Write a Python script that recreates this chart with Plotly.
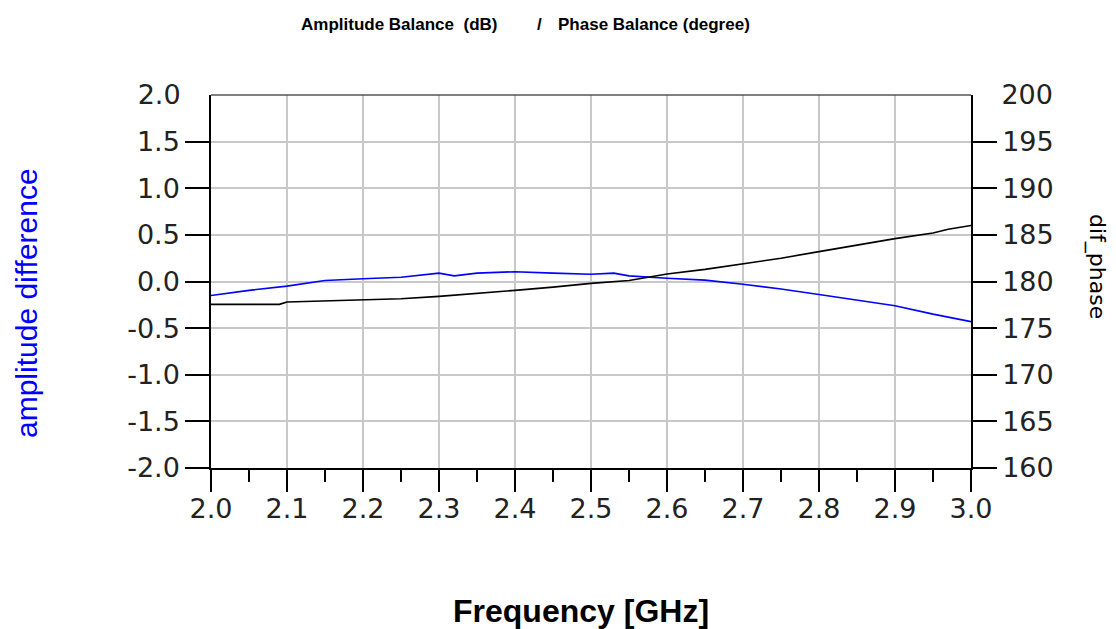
import plotly.graph_objects as go

# ---- data ----
amp_freq = [2.00, 2.05, 2.10, 2.15, 2.20, 2.25, 2.30, 2.32, 2.35, 2.40, 2.45, 2.50, 2.53, 2.55,
            2.60, 2.65, 2.70, 2.75, 2.80, 2.85, 2.90, 2.95, 3.00]
amp_diff = [-0.15, -0.095, -0.05, 0.01, 0.03, 0.045, 0.09, 0.06, 0.09, 0.105, 0.09, 0.077, 0.09, 0.06,
            0.035, 0.015, -0.03, -0.08, -0.14, -0.20, -0.26, -0.35, -0.43]

ph_freq = [2.00, 2.05, 2.09, 2.10, 2.15, 2.20, 2.25, 2.30, 2.35, 2.40, 2.45, 2.50, 2.55, 2.60,
           2.65, 2.70, 2.75, 2.80, 2.85, 2.90, 2.95, 2.97, 3.00]
dif_phase = [177.55, 177.55, 177.55, 177.8, 177.9, 178.0, 178.15, 178.4, 178.7, 179.05, 179.4, 179.8,
             180.1, 180.8, 181.3, 181.9, 182.5, 183.2, 183.9, 184.6, 185.2, 185.6, 186.0]

x_ticks = [2.0, 2.1, 2.2, 2.3, 2.4, 2.5, 2.6, 2.7, 2.8, 2.9, 3.0]
x_ticktext = ["2.0", "2.1", "2.2", "2.3", "2.4", "2.5", "2.6", "2.7", "2.8", "2.9", "3.0"]
yl_ticks = [-2.0, -1.5, -1.0, -0.5, 0.0, 0.5, 1.0, 1.5]
yl_ticktext = ["-2.0", "-1.5", "-1.0", "-0.5", "0.0", "0.5", "1.0", "1.5"]
yr_ticks = [160, 165, 170, 175, 180, 185, 190, 195]
yr_ticktext = ["160", "165", "170", "175", "180", "185", "190", "195"]

TICKFONT = dict(family="DejaVu Sans", size=27, color="#222222")

fig = go.Figure()
fig.add_trace(go.Scatter(x=amp_freq, y=amp_diff, mode="lines",
                         line=dict(color="#0000ff", width=1.6), yaxis="y", showlegend=False))
fig.add_trace(go.Scatter(x=ph_freq, y=dif_phase, mode="lines",
                         line=dict(color="#000000", width=1.6), yaxis="y2", showlegend=False))

fig.update_layout(
    width=1116, height=629,
    margin=dict(l=203, r=153, t=87, b=169),
    paper_bgcolor="white", plot_bgcolor="white",
    xaxis=dict(range=[2.0, 3.0], tickvals=x_ticks, ticktext=x_ticktext,
               ticks="outside", ticklen=22, tickwidth=1.5, tickcolor="black",
               ticklabelstandoff=-6,
               minor=dict(dtick=0.05, ticks="outside", ticklen=12, tickwidth=1.5,
                          tickcolor="black", showgrid=False),
               showgrid=True, gridcolor="#c8c8c8", gridwidth=1.5,
               showline=True, linecolor="black", linewidth=1.5,
               tickfont=TICKFONT, zeroline=False),
    yaxis=dict(range=[-2.0, 2.0], tickvals=yl_ticks, ticktext=yl_ticktext,
               ticks="outside", ticklen=24, tickwidth=1.5, tickcolor="black",
               showgrid=True, gridcolor="#c8c8c8", gridwidth=1.5,
               showline=True, linecolor="black", linewidth=1.5,
               tickfont=TICKFONT, zeroline=False),
    yaxis2=dict(range=[160, 200], tickvals=yr_ticks, ticktext=yr_ticktext, overlaying="y", side="right",
                ticks="outside", ticklen=24, tickwidth=1.5, tickcolor="black",
                showgrid=False, showline=True, linecolor="black", linewidth=1.5,
                tickfont=TICKFONT, zeroline=False),
    yaxis3=dict(range=[-2.0, 2.0], tickvals=[2.0], ticktext=["2.0"], overlaying="y", side="left",
                ticks="outside", ticklen=24, tickcolor="rgba(0,0,0,0)",
                showgrid=False, showline=False, tickfont=TICKFONT, zeroline=False),
    yaxis4=dict(range=[160, 200], tickvals=[200], ticktext=["200"], overlaying="y", side="right",
                ticks="outside", ticklen=24, tickcolor="rgba(0,0,0,0)",
                showgrid=False, showline=False, tickfont=TICKFONT, zeroline=False),
)
# dummy invisible traces to activate the label-only axes
fig.add_trace(go.Scatter(x=[None], y=[None], yaxis="y3", showlegend=False, hoverinfo="skip"))
fig.add_trace(go.Scatter(x=[None], y=[None], yaxis="y4", showlegend=False, hoverinfo="skip"))

# top border of the plot box
fig.add_shape(type="line", xref="paper", yref="paper", x0=0, x1=1, y0=1, y1=1,
              line=dict(color="#555555", width=1.5))

PX = lambda px: (px - 210) / 760
PY = lambda py: (467 - py) / 373

ann = [
    dict(text="<b>Amplitude Balance  (dB)</b>", x=PX(298), y=PY(23), xanchor="left", yanchor="middle",
         font=dict(family="Liberation Sans", size=17, color="black")),
    dict(text="<b>/</b>", x=PX(538), y=PY(23), xanchor="center", yanchor="middle",
         font=dict(family="Liberation Sans", size=17, color="black")),
    dict(text="<b>Phase Balance (degree)</b>", x=PX(555), y=PY(23), xanchor="left", yanchor="middle",
         font=dict(family="Liberation Sans", size=17, color="black")),
    dict(text="<b>Frequency [GHz]</b>", x=PX(580), y=PY(610), xanchor="center", yanchor="middle",
         font=dict(family="Liberation Sans", size=32, color="black")),
    dict(text="amplitude difference", x=PX(25), y=PY(302), xanchor="center", yanchor="middle",
         textangle=-90, font=dict(family="Liberation Sans", size=30, color="#0000ff")),
    dict(text="dif_phase", x=PX(1096), y=PY(265), xanchor="center", yanchor="middle",
         textangle=90, font=dict(family="DejaVu Sans", size=22, color="black")),
]
for a in ann:
    fig.add_annotation(xref="paper", yref="paper", showarrow=False, **a)

fig.write_html("out.html")
